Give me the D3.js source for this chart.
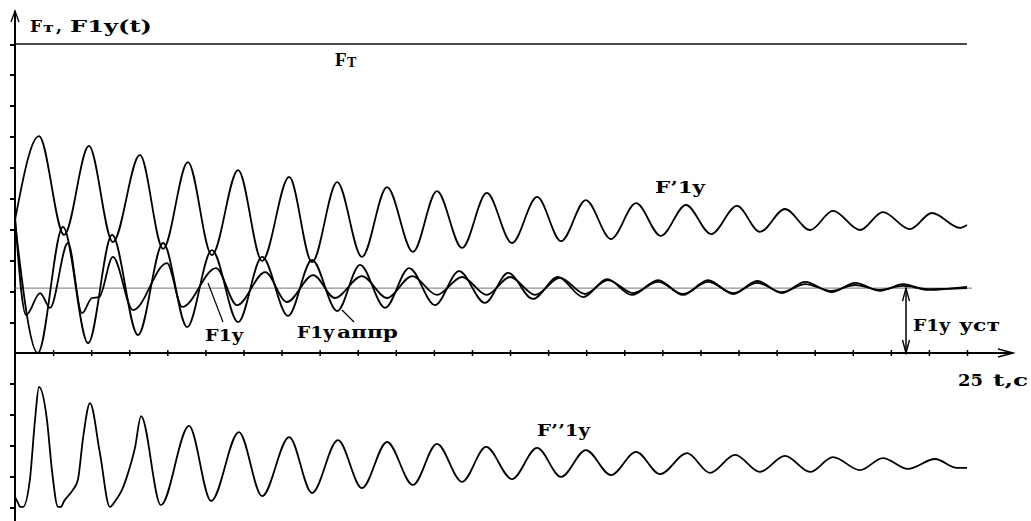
<!DOCTYPE html>
<html><head><meta charset="utf-8">
<script src="https://cdn.jsdelivr.net/npm/d3@7"></script>
<style>
body{margin:0;background:#fff}
text{font-family:"DejaVu Serif",serif;font-weight:bold;fill:#000}
</style>
</head><body>
<svg id="c" width="1031" height="521"></svg>
<script>
// ---- data (t in seconds, force in axis units) ----
const timeTicks = d3.range(0, 26);
const forceTicks = [-5,-4,-3,-2,-1,1,2,3,4,5,6,7,8,9,10];
const fTraction = 10;
const f1ySteady = 2.1;

const fPrime1y = [[0,4.30],[0.63,7.02],[1.29,3.82],[1.94,6.70],[2.57,3.59],[3.28,6.41],[3.89,3.37],[4.54,6.18],[5.17,3.17],[5.86,5.92],[6.49,2.98],[7.20,5.70],[7.80,2.94],[8.46,5.53],[9.11,3.11],[9.77,5.37],[10.45,3.27],[11.08,5.24],[11.74,3.40],[12.39,5.18],[13.05,3.56],[13.71,5.05],[14.34,3.62],[14.99,4.95],[15.65,3.69],[16.31,4.85],[16.96,3.79],[17.62,4.79],[18.28,3.85],[18.96,4.76],[19.56,3.92],[20.22,4.66],[20.88,3.98],[21.48,4.60],[22.19,3.98],[22.79,4.56],[23.50,4.01],[24.08,4.53],[24.82,4.05],[25,4.14]];

const f1yApprox = [[0,4.24],[0.60,0],[1.26,4.08],[1.92,0.32],[2.55,3.82],[3.23,0.58],[3.89,3.56],[4.52,0.84],[5.17,3.33],[5.86,1.00],[6.49,3.11],[7.17,1.20],[7.80,3.01],[8.46,1.36],[9.06,2.85],[9.72,1.46],[10.35,2.75],[11.03,1.55],[11.66,2.65],[12.34,1.62],[12.95,2.59],[13.60,1.75],[14.26,2.46],[14.92,1.81],[15.55,2.39],[16.20,1.88],[16.89,2.36],[17.54,1.88],[18.20,2.36],[18.86,1.91],[19.49,2.33],[20.14,1.94],[20.75,2.30],[21.45,1.97],[22.06,2.27],[22.72,2.01],[23.32,2.23],[23.98,2.04],[25,2.14]];

const f1y = [[0,4.43],[0.29,1.23],[0.66,1.94],[0.92,1.46],[1.39,3.56],[1.76,1.29],[2.02,1.78],[2.21,1.81],[2.57,3.11],[3.10,1.39],[3.99,2.91],[4.39,1.49],[5.28,2.75],[5.83,1.55],[6.57,2.62],[7.14,1.65],[7.83,2.52],[8.40,1.78],[9.11,2.49],[9.77,1.78],[10.43,2.49],[11.08,1.88],[11.74,2.46],[12.39,1.88],[13.00,2.46],[13.66,1.88],[14.31,2.43],[14.97,1.91],[15.57,2.36],[16.23,1.94],[16.89,2.30],[17.54,1.91],[18.20,2.30],[18.86,1.94],[19.49,2.27],[20.14,1.97],[20.75,2.23],[21.45,2.01],[22.06,2.20],[22.72,2.04],[23.32,2.17],[23.98,2.07],[25,2.10]];

const fSecond1y = [[0,-4.66],[0.08,-4.85],[0.13,-4.98],[0.21,-4.98],[0.39,-4.11],[0.525,-2.17],[0.63,-1.10],[0.84,-2.17],[0.97,-3.79],[1.13,-4.98],[1.20,-4.98],[1.29,-4.79],[1.52,-4.43],[1.65,-4.11],[1.79,-2.72],[1.97,-1.62],[2.23,-3.24],[2.49,-4.98],[2.63,-4.79],[2.81,-4.43],[2.97,-3.88],[3.15,-3.07],[3.31,-2.04],[3.83,-4.92],[4.57,-2.36],[5.15,-4.79],[5.88,-2.56],[6.49,-4.63],[7.20,-2.72],[7.80,-4.53],[8.48,-2.82],[9.11,-4.37],[9.77,-2.88],[10.45,-4.27],[11.08,-2.94],[11.74,-4.17],[12.37,-3.04],[13.05,-4.08],[13.71,-3.07],[14.34,-4.01],[14.99,-3.14],[15.65,-3.95],[16.31,-3.20],[16.94,-3.92],[17.65,-3.24],[18.25,-3.88],[18.91,-3.30],[19.56,-3.85],[20.22,-3.33],[20.88,-3.85],[21.48,-3.37],[22.19,-3.79],[22.79,-3.40],[23.45,-3.75],[24.16,-3.43],[24.74,-3.72],[25,-3.72]];

// ---- chart ----
const svg = d3.select("#c");
const x = d3.scaleLinear().domain([0, 25]).range([15, 967]);
const y = d3.scaleLinear().domain([0, 10]).range([353, 44]);

// y axis ticks
const ya = svg.append("g").attr("transform", `translate(${x(0)},0)`)
  .call(d3.axisLeft(y).tickValues(forceTicks).tickSize(5).tickFormat(""));
ya.select(".domain").remove();
ya.selectAll("line").attr("stroke", "#000").attr("stroke-width", 2).attr("shape-rendering","crispEdges");

// x axis ticks
const xa = svg.append("g").attr("transform", `translate(0,${y(0) - 3})`)
  .call(d3.axisBottom(x).tickValues(timeTicks.slice(1)).tickSize(6).tickFormat(""));
xa.select(".domain").remove();
xa.selectAll("line").attr("stroke", "#000").attr("stroke-width", 1.5);

// axis lines
svg.append("line").attr("x1", x(0)).attr("x2", x(0)).attr("y1", 11).attr("y2", 521)
  .attr("stroke", "#000").attr("stroke-width", 2);
svg.append("path").attr("d", `M${x(0)-4},22 L${x(0)},11 L${x(0)+4},22`)
  .attr("fill","none").attr("stroke","#000").attr("stroke-width",1.3);
svg.append("line").attr("x1", x(0)).attr("x2", 1013).attr("y1", y(0)).attr("y2", y(0))
  .attr("stroke", "#000").attr("stroke-width", 2);
svg.append("path").attr("d", `M998,${y(0)-4} L1013,${y(0)} L998,${y(0)+4}`)
  .attr("fill","none").attr("stroke","#000").attr("stroke-width",1.5);

// F_T line and steady line
svg.append("line").attr("x1", x(0)).attr("x2", x(25)).attr("y1", y(fTraction)).attr("y2", y(fTraction))
  .attr("stroke", "#111").attr("stroke-width", 1.6);
svg.append("line").attr("x1", x(0)).attr("x2", x(25) + 5).attr("y1", y(f1ySteady)).attr("y2", y(f1ySteady))
  .attr("stroke", "#777").attr("stroke-width", 1);

// curves
const line = d3.line().x(d => x(d[0])).y(d => y(d[1])).curve(d3.curveMonotoneX);
[fPrime1y, f1yApprox, f1y, fSecond1y].forEach(s => {
  svg.append("path").datum(s).attr("d", line)
    .attr("fill", "none").attr("stroke", "#000").attr("stroke-width", 1.8).attr("stroke-linejoin","round");
});

// steady-state double arrow
const ax = 906, yTop = y(f1ySteady), yBot = y(0);
svg.append("line").attr("x1", ax).attr("x2", ax).attr("y1", yTop).attr("y2", yBot)
  .attr("stroke", "#000").attr("stroke-width", 1.5);
svg.append("path").attr("d", `M${ax-3.5},${yTop+13} L${ax},${yTop} L${ax+3.5},${yTop+13}`)
  .attr("fill","none").attr("stroke","#000").attr("stroke-width",1.4);
svg.append("path").attr("d", `M${ax-3.5},${yBot-13} L${ax},${yBot} L${ax+3.5},${yBot-13}`)
  .attr("fill","none").attr("stroke","#000").attr("stroke-width",1.4);

// pointer lines
svg.append("line").attr("x1", 223).attr("y1", 322).attr("x2", 208).attr("y2", 283)
  .attr("stroke","#000").attr("stroke-width",1.2);
svg.append("line").attr("x1", 354).attr("y1", 322).attr("x2", 342).attr("y2", 310)
  .attr("stroke","#000").attr("stroke-width",1.2);

// labels
function txt(xp, yp, s, size, len, family) {
  const t = svg.append("text").attr("x", xp).attr("y", yp).style("font-size", size + "px").text(s);
  if (len) t.attr("textLength", len).attr("lengthAdjust", "spacingAndGlyphs");
  if (family) t.style("font-family", family);
  return t;
}
txt(30, 32, "F", 17, 12);
txt(43, 32, "т", 13, 11);
txt(56, 32, ",", 17);
txt(70, 32, "F1y(t)", 17, 82);
txt(335, 66, "F", 19, 0, "Liberation Serif");
txt(347, 67, "T", 14, 0, "Liberation Serif");
txt(655, 193, "F’1y", 17, 50);
txt(205, 341, "F1y", 17, 38);
txt(297, 338, "F1y", 17, 37);
txt(337, 338, "аппр", 17, 61);
txt(913, 331, "F1y", 17, 37);
txt(959, 331, "уст", 17, 41);
txt(537, 436, "F’’1y", 17, 53);
txt(958, 386, "25", 17, 25);
txt(993, 386, "t,c", 17, 35);
</script>
</body></html>
